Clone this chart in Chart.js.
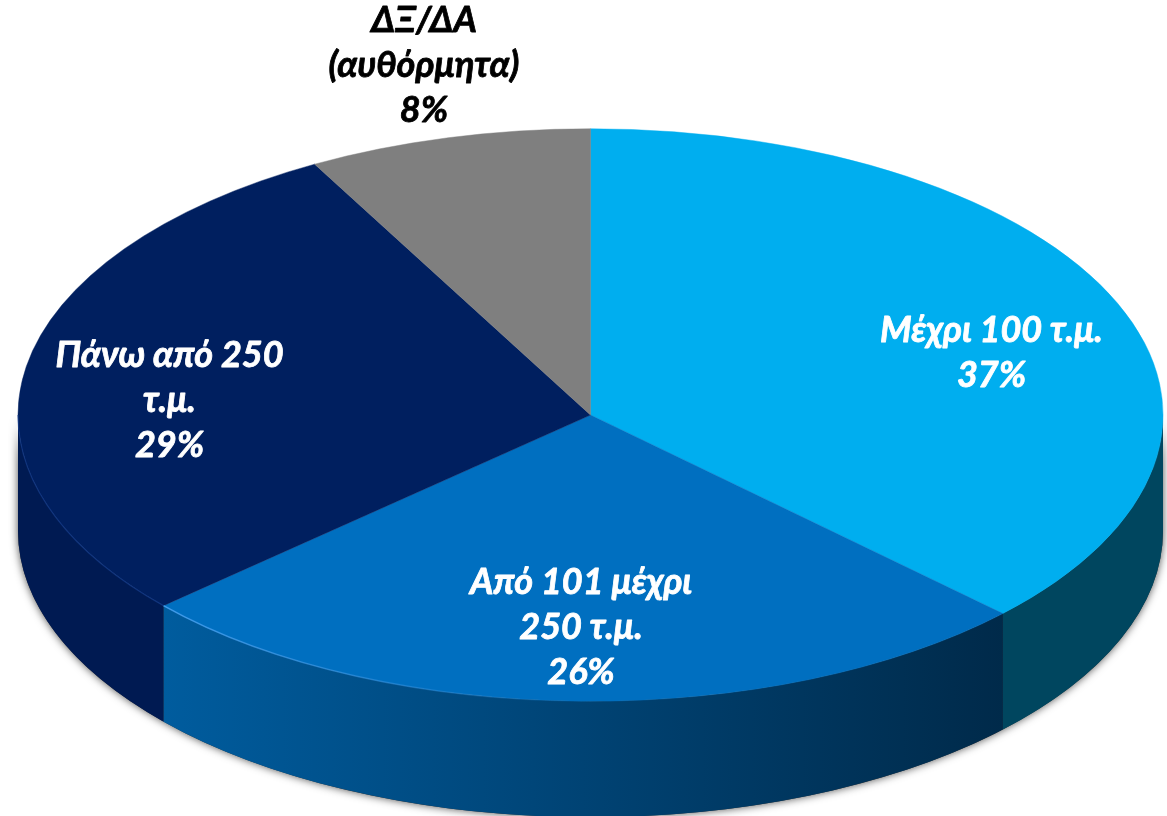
<!DOCTYPE html>
<html>
<head>
<meta charset="utf-8">
<title>Pie</title>
<script src="https://cdn.jsdelivr.net/npm/chart.js@4"></script>
<style>
  html, body { margin: 0; padding: 0; background: #fff; overflow: hidden; }
  canvas { display: block; }
</style>
</head>
<body>
<canvas id="chart" width="1167" height="816"></canvas>
<script>
const categories = ['Μέχρι 100 τ.μ.', 'Από 101 μέχρι 250 τ.μ.', 'Πάνω από 250 τ.μ.', 'ΔΞ/ΔΑ (αυθόρμητα)'];
// slice sizes, printed rounded
const values = [37.2, 26.2, 28.6, 8];
const labelLines = [
  ['Μέχρι 100 τ.μ.'],
  ['Από 101 μέχρι', '250 τ.μ.'],
  ['Πάνω από 250', 'τ.μ.'],
  ['ΔΞ/ΔΑ', '(αυθόρμητα)']
];
const topColors = ['#00aeef', '#006fc0', '#001f5f', '#7f7f7f'];

// Side wall colours, left end and right end of each slice
const wallColors = [
  ['#00465f', '#00465f'],
  ['#005c9e', '#002a4a'],
  ['#001a52', '#001a52'],
  ['#555555', '#555555']
];

const squash = 0.5;   // pie seen from above
const depth = 116;
const labelFont = 'italic bold 36px Lato, "Open Sans", sans-serif';
const labelSpacing = 45;
const labelAnchors = [[991.5, 330], [581, 582], [169.5, 355], [424, 20]];
const labelInk = ['#fff', '#fff', '#fff', '#000'];

function wallPath(ctx, arc, from, to) {
  const ry = arc.outerRadius * squash;
  ctx.beginPath();
  ctx.ellipse(arc.x, arc.y, arc.outerRadius, ry, 0, from, to);
  ctx.ellipse(arc.x, arc.y + depth, arc.outerRadius, ry, 0, to, from, true);
  ctx.closePath();
}

const pie3d = {
  id: 'pie3d',
  beforeDatasetsDraw(chart) {
    const ctx = chart.ctx;
    const arcs = chart.getDatasetMeta(0).data;
    const first = arcs[0];

    // soft shadow under the whole front wall
    ctx.save();
    ctx.shadowColor = 'rgba(0, 0, 0, 0.7)';
    ctx.shadowBlur = 8;
    ctx.fillStyle = '#333';
    wallPath(ctx, first, 0, Math.PI);
    ctx.fill();
    ctx.restore();

    // the part of each slice facing us
    arcs.forEach((arc, i) => {
      const from = Math.max(arc.startAngle, 0);
      const to = Math.min(arc.endAngle, Math.PI);
      if (to <= from) return;
      const x0 = arc.x + Math.cos(to) * arc.outerRadius;
      const x1 = arc.x + Math.cos(from) * arc.outerRadius;
      const grad = ctx.createLinearGradient(x0, 0, x1, 0);
      grad.addColorStop(0, wallColors[i][0]);
      grad.addColorStop(1, wallColors[i][1]);
      ctx.fillStyle = grad;
      wallPath(ctx, arc, from, to);
      ctx.fill();
    });

    ctx.save();
    ctx.translate(first.x, first.y);
    ctx.scale(1, squash);
    ctx.translate(-first.x, -first.y);
  },
  afterDatasetsDraw(chart) {
    const ctx = chart.ctx;
    ctx.restore();

    const arcs = chart.getDatasetMeta(0).data;
    const first = arcs[0];
    const ry = first.outerRadius * squash;

    // thin lighter rim on the left of the front edge
    const rim = ctx.createLinearGradient(162, 0, 560, 0);
    rim.addColorStop(0, 'rgba(70, 160, 240, 0.9)');
    rim.addColorStop(1, 'rgba(70, 160, 240, 0)');
    ctx.strokeStyle = rim;
    ctx.lineWidth = 1.5;
    ctx.beginPath();
    ctx.ellipse(first.x, first.y, first.outerRadius, ry, 0, Math.PI / 2, arcs[1].endAngle);
    ctx.stroke();
    ctx.strokeStyle = 'rgba(20, 60, 140, 0.7)';
    ctx.lineWidth = 1.2;
    ctx.beginPath();
    ctx.ellipse(first.x, first.y, first.outerRadius, ry, 0, arcs[2].startAngle, Math.PI);
    ctx.stroke();

    // labels, stroked a little because Lato bold is lighter than the original
    ctx.save();
    ctx.font = labelFont;
    ctx.textAlign = 'center';
    ctx.textBaseline = 'middle';
    ctx.lineJoin = 'round';
    ctx.lineWidth = 0.8;
    values.forEach((v, i) => {
      const lines = labelLines[i].concat(Math.round(v) + '%');
      ctx.fillStyle = labelInk[i];
      ctx.strokeStyle = labelInk[i];
      lines.forEach((line, n) => {
        const y = labelAnchors[i][1] + n * labelSpacing;
        ctx.fillText(line, labelAnchors[i][0], y);
        ctx.strokeText(line, labelAnchors[i][0], y);
      });
    });
    ctx.restore();
  }
};

new Chart(document.getElementById('chart'), {
  type: 'pie',
  data: {
    labels: categories,
    datasets: [{
      data: values,
      backgroundColor: topColors,
      borderColor: topColors,
      borderWidth: 0.6,
      clip: false
    }]
  },
  options: {
    responsive: false,
    animation: false,
    events: [],
    radius: 572.5,
    layout: { padding: { left: 14, top: 14 } },
    plugins: {
      legend: { display: false },
      tooltip: { enabled: false }
    }
  },
  plugins: [pie3d]
});
</script>
</body>
</html>
